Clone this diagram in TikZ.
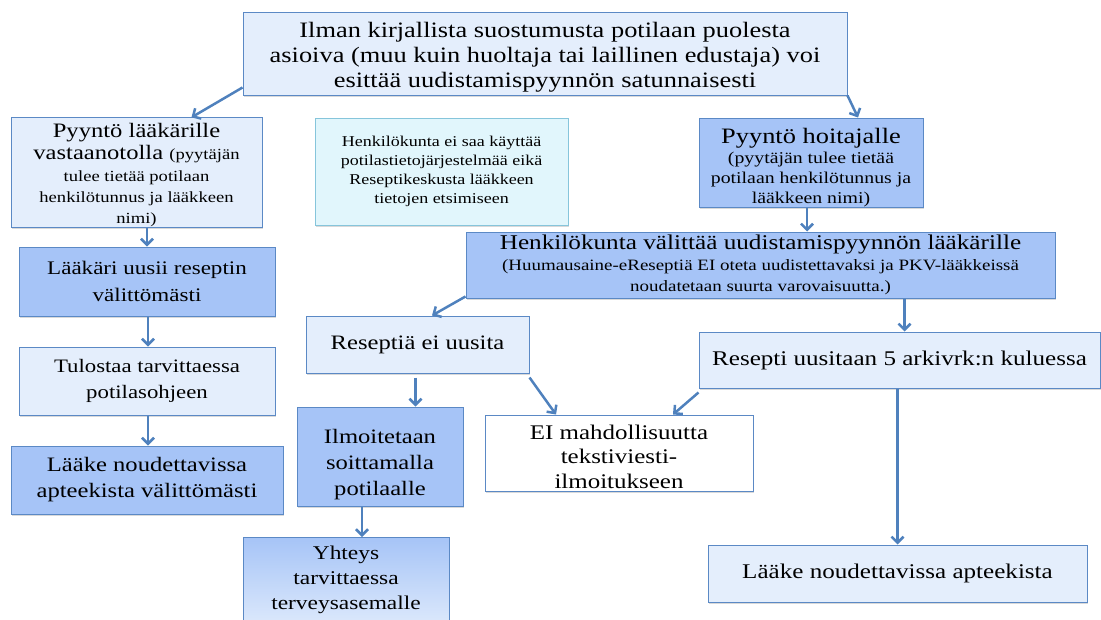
\documentclass[tikz,border=0pt]{standalone}
\usepackage{fontspec}
\setmainfont{Liberation Serif}[FakeStretch=1.2]
\usetikzlibrary{arrows.meta,shadows}

\definecolor{reuna}{HTML}{5B89C5}
\definecolor{vaalea}{HTML}{E4EEFC}
\definecolor{keski}{HTML}{A6C4F7}
\definecolor{syaani}{HTML}{E1F6FC}
\definecolor{syaanireuna}{HTML}{86C5DB}
\definecolor{nuoli}{HTML}{4F81BD}

\newcommand{\isofont}{\fontsize{20.5}{26}\selectfont}
\newcommand{\pienifont}{\fontsize{15.5}{19}\selectfont}
% nostaa ensimmaista rivia, jolloin teksti laskeutuu laatikossa
\newcommand{\ylarako}[1]{\rule{0pt}{#1}}

\begin{document}
\begin{tikzpicture}[x=1pt,y=-1pt,
  box/.style={draw=reuna, line width=1pt, align=center, inner sep=2pt,
    font=\isofont, drop shadow={opacity=0.3, shadow xshift=1pt, shadow yshift=-1.5pt}},
  lightbox/.style={box, fill=vaalea},
  midbox/.style={box, fill=keski},
  infobox/.style={box, draw=syaanireuna, fill=syaani, font=\fontsize{15}{19}\selectfont},
  plainbox/.style={box, fill=white},
  arr/.style={-{Straight Barb[length=6pt,width=12pt]}, draw=nuoli, line width=2.5pt}
]
\useasboundingbox (0,0) rectangle (1101,619);
\begin{scope}
\clip (0,0) rectangle (1101,619);

% ylarivi
\node[lightbox, minimum width=604pt, minimum height=83pt,
  font=\fontsize{22}{25}\selectfont] (top) at (545,53.5)
  {\ylarako{22pt}Ilman kirjallista suostumusta potilaan puolesta\\
   asioiva (muu kuin huoltaja tai laillinen edustaja) voi\\
   esittää uudistamispyynnön satunnaisesti};

% pyynnot
\node[lightbox, minimum width=251pt, minimum height=109pt, inner sep=0pt] (pl) at (136.5,172.5)
  {\ylarako{20pt}Pyyntö lääkärille\\[-4pt]
   vastaanotolla {\pienifont(pyytäjän}\\[-4pt]
   {\pienifont tulee tietää potilaan}\\[-5pt]
   {\pienifont henkilötunnus ja lääkkeen}\\[-5pt]
   {\pienifont nimi)}};
\node[infobox, minimum width=253pt, minimum height=107pt] (info) at (441.5,171.5)
  {Henkilökunta ei saa käyttää\\
   potilastietojärjestelmää eikä\\
   Reseptikeskusta lääkkeen\\
   tietojen etsimiseen};
\node[midbox, minimum width=224pt, minimum height=89pt, inner sep=0pt,
  font=\fontsize{22}{25}\selectfont] (ph) at (811,162.5)
  {\ylarako{25pt}Pyyntö hoitajalle\\[-5pt]
   {\fontsize{16.5}{19}\selectfont(pyytäjän tulee tietää}\\[-5pt]
   {\fontsize{16.5}{19}\selectfont potilaan henkilötunnus ja}\\[-5pt]
   {\fontsize{16.5}{19}\selectfont lääkkeen nimi)}};
\node[midbox, minimum width=589pt, minimum height=66pt,
  font=\fontsize{21}{25}\selectfont] (hv) at (760.5,265)
  {Henkilökunta välittää uudistamispyynnön lääkärille\\[-4pt]
   {\fontsize{15.8}{18}\selectfont(Huumausaine-eReseptiä EI oteta uudistettavaksi ja PKV-lääkkeissä}\\[-4pt]
   {\fontsize{15.8}{18}\selectfont noudatetaan suurta varovaisuutta.)}};

% vasen haara
\node[midbox, minimum width=256pt, minimum height=69pt,
  font=\fontsize{19.2}{27}\selectfont] (lu) at (147,281.5)
  {Lääkäri uusii reseptin\\ välittömästi};
\node[lightbox, minimum width=256pt, minimum height=68pt,
  font=\fontsize{19}{26}\selectfont] (tu) at (147,381)
  {Tulostaa tarvittaessa\\ potilasohjeen};
\node[midbox, minimum width=272pt, minimum height=68pt] (lv) at (147,480)
  {Lääke noudettavissa\\ apteekista välittömästi};

% keskihaara
\node[lightbox, minimum width=223pt, minimum height=57pt] (rn) at (417.5,344.5)
  {Reseptiä ei uusita};
\node[midbox, minimum width=166pt, minimum height=99pt, inner sep=0pt] (il) at (380,456.5)
  {\ylarako{31pt}Ilmoitetaan\\ soittamalla\\ potilaalle};
\node[plainbox, minimum width=268pt, minimum height=76pt, inner sep=0pt,
  font=\fontsize{20.8}{24.5}\selectfont] (ei) at (619,453)
  {\ylarako{22pt}EI mahdollisuutta\\ tekstiviesti-\\ ilmoitukseen};
\node[box, top color=keski, bottom color=vaalea, minimum width=206pt,
  minimum height=100pt, anchor=north, text depth=20pt,
  font=\fontsize{19.5}{25}\selectfont] (yh) at (346,537)
  {Yhteys\\ tarvittaessa\\ terveysasemalle};

% oikea haara
\node[lightbox, minimum width=401pt, minimum height=56pt,
  font=\fontsize{20.9}{25}\selectfont] (ru) at (899.5,360)
  {Resepti uusitaan 5 arkivrk:n kuluessa};
\node[lightbox, minimum width=379pt, minimum height=57pt,
  font=\fontsize{20.9}{25}\selectfont] (la) at (897.5,573.5)
  {Lääke noudettavissa apteekista};

% nuolet
\draw[arr] ([yshift=8pt]top.south west) -- ([xshift=55pt]pl.north);
\draw[arr] (top.south east) -- ([xshift=47pt]ph.north);
\draw[arr] (pl.south -| lu.north) -- (lu.north);
\draw[arr] ([xshift=1pt]lu.south) -- ([xshift=1pt]tu.north);
\draw[arr] ([xshift=1pt]tu.south) -- ([xshift=1pt]lv.north);
\draw[arr] ([xshift=-4pt]ph.south) -- ([xshift=-4pt]ph.south |- hv.north);
\draw[arr] ([yshift=2pt]hv.south west) -- ([xshift=14.5pt]rn.north);
\draw[arr] ([xshift=5pt]ru.north |- hv.south) -- ([xshift=5pt]ru.north);
\draw[arr] ([xshift=-2pt,yshift=-4pt]rn.south) -- ([xshift=-2pt]rn.south |- il.north);
\draw[arr] ([yshift=-4pt]rn.south east) -- ([xshift=-63pt]ei.north);
\draw[arr] ([yshift=-4pt]ru.south west) -- ([xshift=54pt]ei.north);
\draw[arr] ([xshift=-18pt]il.south) -- ([xshift=-18pt]il.south |- yh.north);
\draw[arr] (ru.south -| la.north) -- (la.north);
\end{scope}
\end{tikzpicture}
\end{document}
